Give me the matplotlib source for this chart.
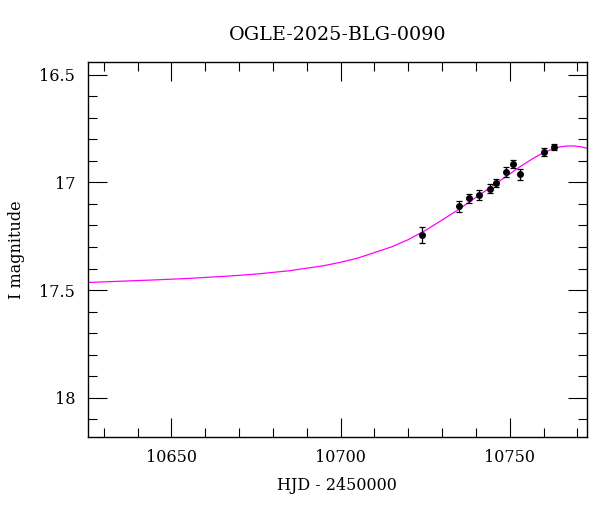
import matplotlib
matplotlib.use("Agg")
import matplotlib.pyplot as plt
from matplotlib.ticker import MultipleLocator

plt.rcParams['font.family'] = ['DejaVu Serif']
plt.rcParams['font.size'] = 11.5

# OGLE I-band photometry
hjd = [10724.0, 10735.1, 10738.1, 10741.0, 10744.1, 10746.0,
       10749.0, 10751.0, 10753.0, 10760.0, 10763.2]
mag = [17.243, 17.112, 17.074, 17.059, 17.029, 17.003,
       16.953, 16.914, 16.963, 16.860, 16.835]
err = [0.038, 0.025, 0.022, 0.022, 0.020, 0.020,
       0.022, 0.020, 0.027, 0.018, 0.015]

# model curve
model_t = [10625, 10635, 10645, 10655, 10665, 10675, 10685, 10695, 10700,
           10705, 10710, 10715, 10720, 10725, 10730, 10735, 10740, 10745,
           10749, 10753, 10757, 10760, 10763, 10765, 10767, 10769, 10771,
           10773]
model_m = [17.465, 17.459, 17.453, 17.446, 17.437, 17.426, 17.410, 17.387,
           17.371, 17.352, 17.326, 17.300, 17.266, 17.224, 17.175, 17.125,
           17.070, 17.016, 16.972, 16.928, 16.888, 16.862, 16.843, 16.835,
           16.831, 16.831, 16.835, 16.842]

fig = plt.figure(figsize=(6, 5.12), dpi=100)
ax = fig.add_axes([0.146, 0.147, 0.832, 0.732])

ax.plot(model_t, model_m, color='#ff00ff', lw=0.9, zorder=2)
ax.errorbar(hjd, mag, yerr=err, fmt='o', color='black', ms=4,
            elinewidth=0.9, capsize=2.5, capthick=0.9, zorder=3)

ax.set_xlim(10625.2, 10772.8)
ax.set_ylim(18.181, 16.441)

ax.xaxis.set_major_locator(MultipleLocator(50))
ax.xaxis.set_minor_locator(MultipleLocator(10))
ax.yaxis.set_major_locator(MultipleLocator(0.5))
ax.yaxis.set_minor_locator(MultipleLocator(0.1))
ax.yaxis.set_major_formatter(plt.FuncFormatter(lambda v, p: f'{v:g}'))

ax.tick_params(which='both', direction='in', top=True, right=True,
               width=0.8, color='black')
ax.tick_params(which='major', length=13.5, pad=9)
ax.tick_params(which='minor', length=6.8)
for s in ax.spines.values():
    s.set_linewidth(1.0)

ax.set_xlabel('HJD - 2450000', labelpad=8)
ax.set_ylabel('I magnitude', labelpad=10)
ax.set_title('OGLE-2025-BLG-0090', pad=16)

fig.savefig('out.png', dpi=100)
